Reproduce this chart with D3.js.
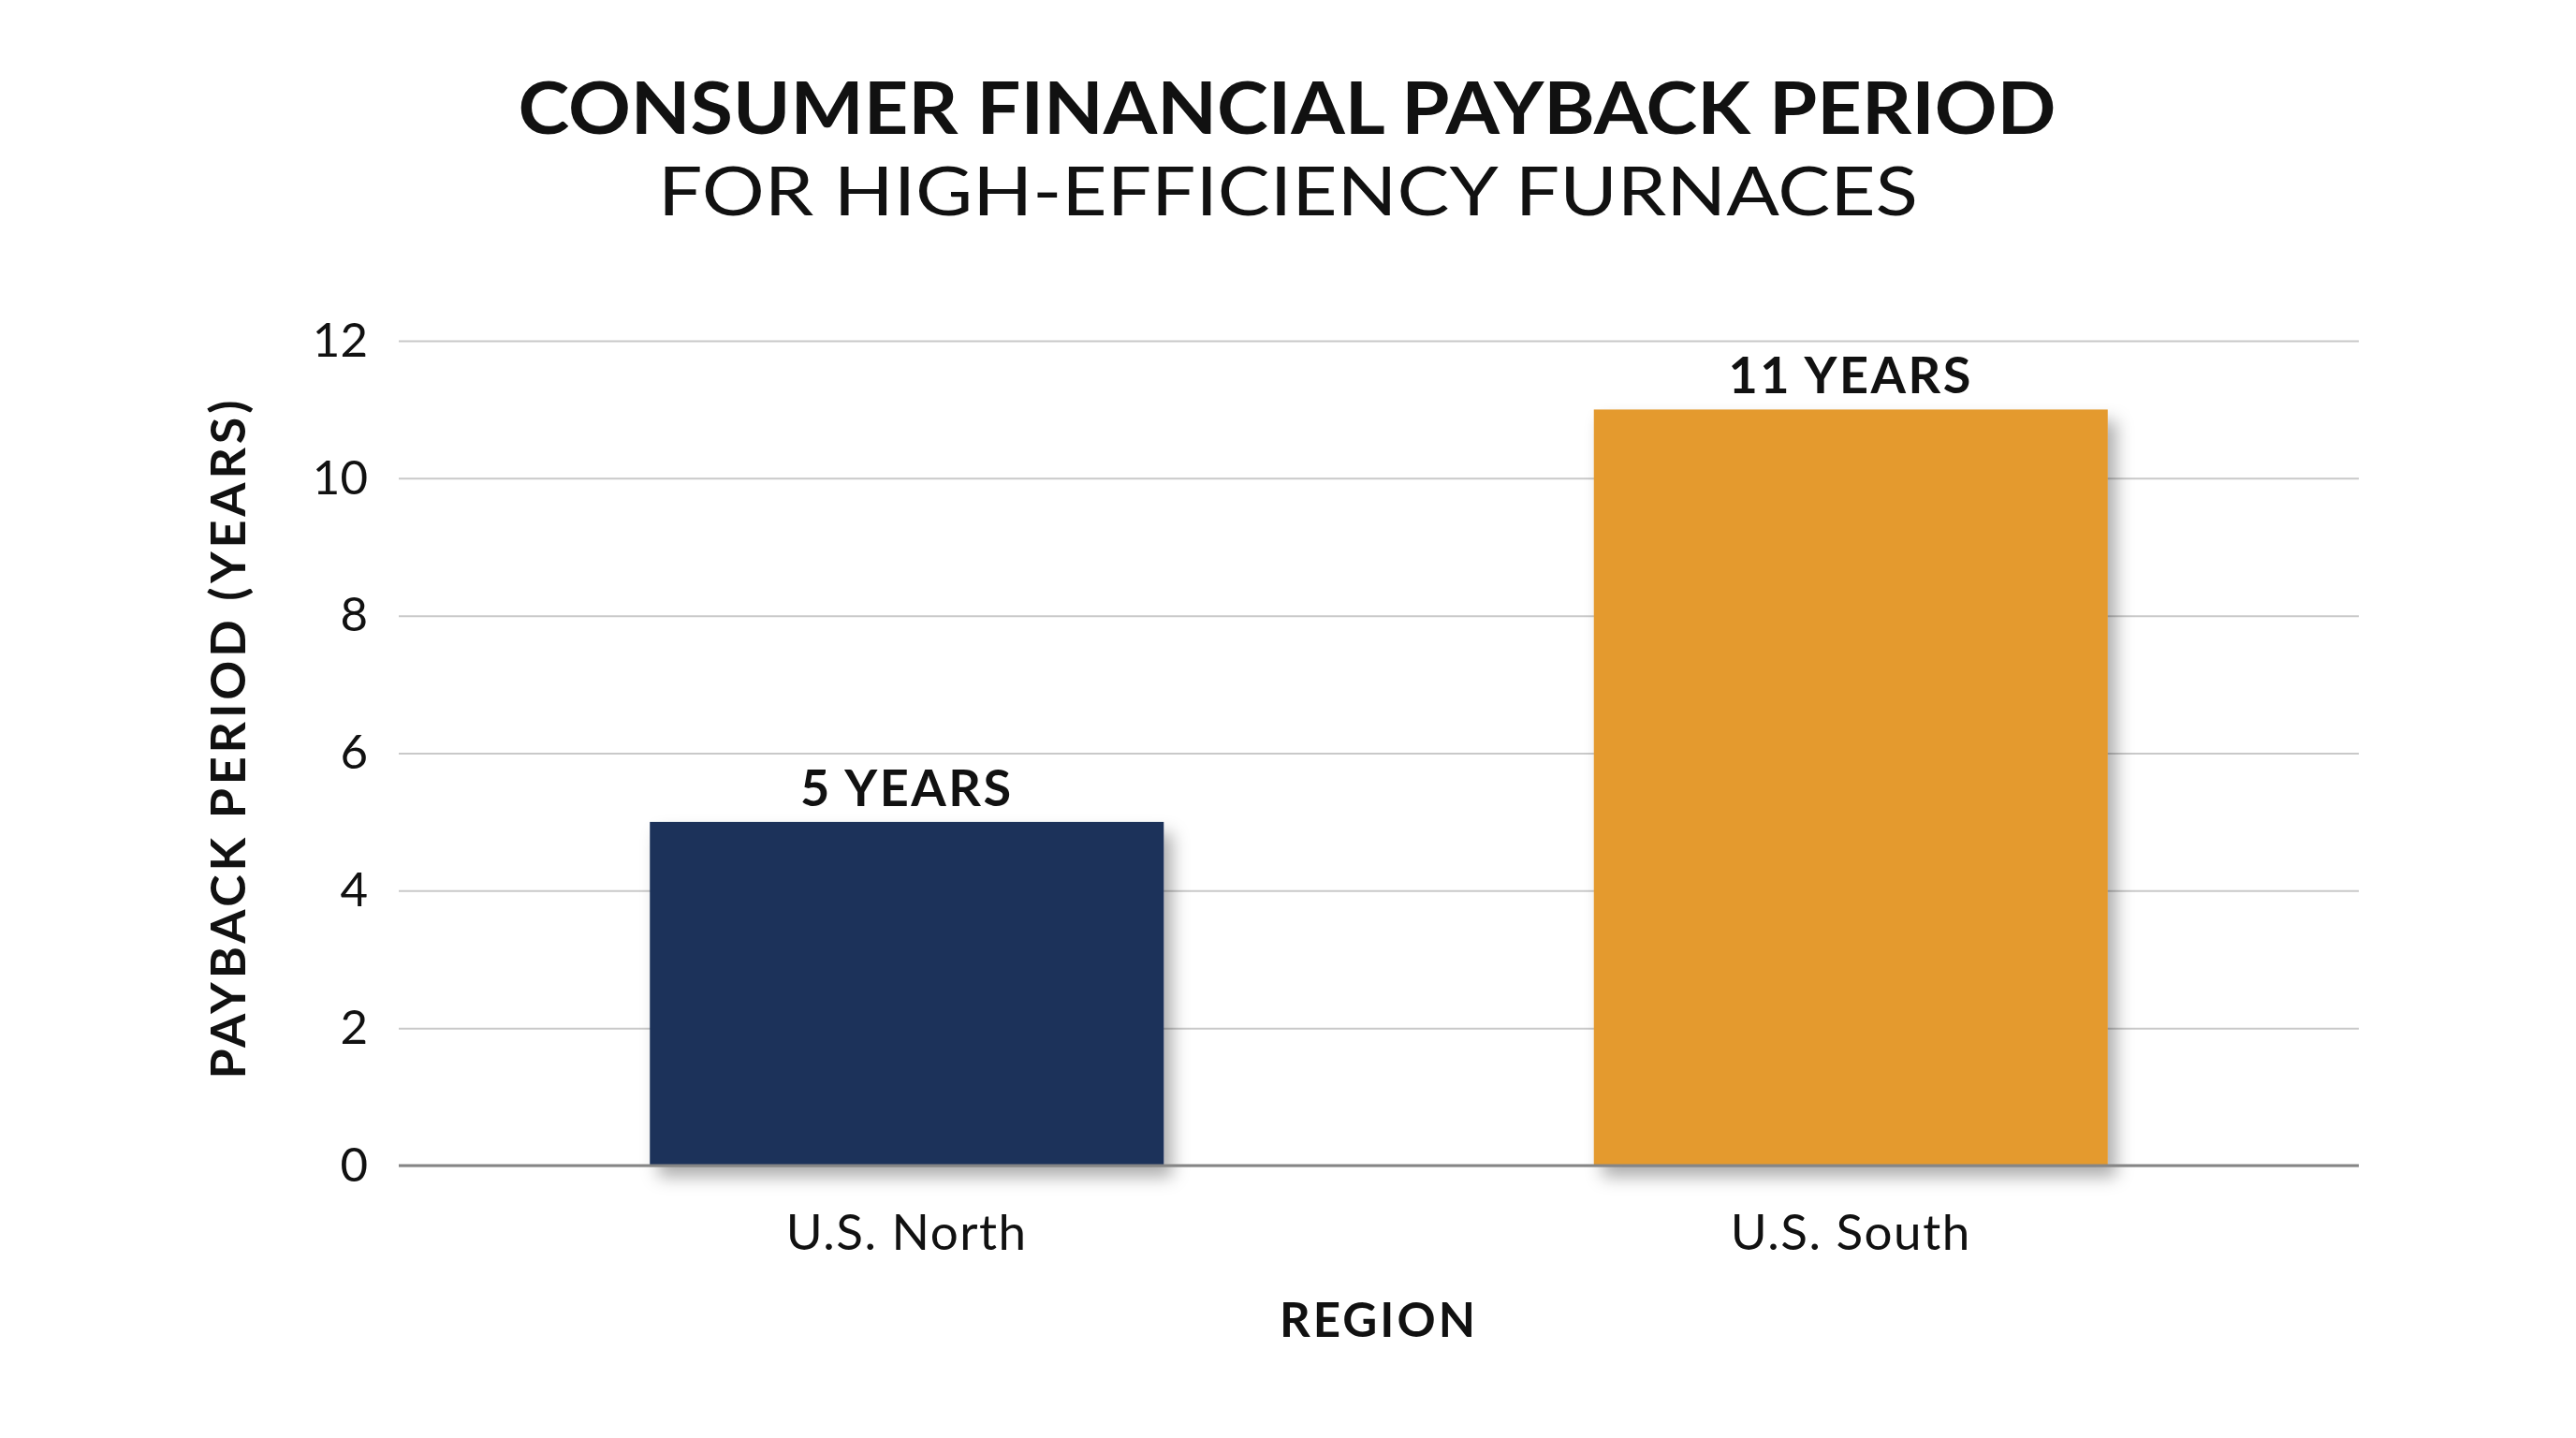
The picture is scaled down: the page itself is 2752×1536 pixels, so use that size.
<!DOCTYPE html>
<html>
<head>
<meta charset="utf-8">
<script src="https://cdn.jsdelivr.net/npm/d3@7"></script>
<style>
  html, body { margin: 0; padding: 0; background: #fff; }
  text { font-family: Lato, "Noto Sans", sans-serif; fill: #111; }
</style>
</head>
<body>
<div id="chart"></div>
<script>
    // chart values
    var regions = ["U.S. North", "U.S. South"];
    var paybackYears = [5, 11];
    var valueLabels = ["5 YEARS", "11 YEARS"];
    var barColors = ["#1d325a", "#e49a2e"];
    var yTicks = [0, 2, 4, 6, 8, 10, 12];
    var titleLines = ["CONSUMER FINANCIAL PAYBACK PERIOD", "FOR HIGH-EFFICIENCY FURNACES"];

    var W = 2752, H = 1536;
    var margin = {top: 364, right: 232, bottom: 291, left: 426},
        width = W - margin.left - margin.right,
        height = H - margin.top - margin.bottom;

    var svg = d3.select("#chart")
        .append("svg")
            .attr("width", W)
            .attr("height", H)
            .style("display", "block");

    svg.append("rect").attr("width", W).attr("height", H).attr("fill", "#fff");

    // soft shadow under the bars
    var defs = svg.append("defs");
    defs.append("filter")
        .attr("id", "barShadow")
        .attr("x", "-10%").attr("y", "-10%")
        .attr("width", "130%").attr("height", "130%")
      .append("feDropShadow")
        .attr("dx", 9)
        .attr("dy", 12)
        .attr("stdDeviation", 9)
        .attr("flood-color", "#000")
        .attr("flood-opacity", 0.32);

    // title (two lines)
    svg.append("text")
        .attr("x", 1375)
        .attr("y", 143)
        .attr("text-anchor", "middle")
        .attr("font-size", 77)
        .attr("font-weight", 700)
        .attr("textLength", 1643)
        .attr("lengthAdjust", "spacingAndGlyphs")
        .text(titleLines[0]);

    svg.append("text")
        .attr("x", 1376)
        .attr("y", 230)
        .attr("text-anchor", "middle")
        .attr("font-size", 72)
        .attr("font-weight", 400)
        .attr("textLength", 1346)
        .attr("lengthAdjust", "spacingAndGlyphs")
        .text(titleLines[1]);

    var g = svg.append("g")
        .attr("transform", "translate(" + margin.left + "," + margin.top + ")");

    var x = d3.scaleBand()
        .domain(regions)
        .range([0, width])
        .paddingInner(0.4556)
        .paddingOuter(0.266);

    var y = d3.scaleLinear()
        .domain([0, 12])
        .range([height, 0]);

    // y axis + gridlines
    var yAxis = g.append("g")
        .attr("class", "y-axis")
        .call(d3.axisLeft(y)
            .tickValues(yTicks)
            .tickSize(-width)
            .tickPadding(33));

    yAxis.select(".domain").remove();
    yAxis.selectAll(".tick line")
        .attr("stroke", "#c9c9c9")
        .attr("stroke-width", 2);
    yAxis.selectAll(".tick text")
        .attr("font-size", 51)
        .attr("font-weight", 400)
        .attr("fill", "#111");

    // bars
    g.selectAll(".bar")
        .data(paybackYears)
        .enter().append("rect")
            .attr("class", "bar")
            .attr("x", function(d, i) { return x(regions[i]); })
            .attr("y", function(d) { return y(d); })
            .attr("width", x.bandwidth())
            .attr("height", function(d) { return height - y(d); })
            .attr("fill", function(d, i) { return barColors[i]; })
            .attr("filter", "url(#barShadow)");

    // value labels
    g.selectAll(".value-label")
        .data(paybackYears)
        .enter().append("text")
            .attr("class", "value-label")
            .attr("x", function(d, i) { return x(regions[i]) + x.bandwidth() / 2; })
            .attr("y", function(d) { return y(d) - 17; })
            .attr("text-anchor", "middle")
            .attr("font-size", 54)
            .attr("font-weight", 700)
            .attr("letter-spacing", 2.5)
            .text(function(d, i) { return valueLabels[i]; });

    // x axis
    var xAxis = g.append("g")
        .attr("class", "x-axis")
        .attr("transform", "translate(0," + height + ")")
        .call(d3.axisBottom(x).tickSize(0).tickPadding(52));

    xAxis.select(".domain").remove();
    xAxis.selectAll(".tick text")
        .attr("font-size", 53)
        .attr("font-weight", 400)
        .attr("letter-spacing", 1.5)
        .attr("fill", "#111");

    // baseline on top of the bars
    g.append("line")
        .attr("x1", 0)
        .attr("x2", width)
        .attr("y1", y(0))
        .attr("y2", y(0))
        .attr("stroke", "#858585")
        .attr("stroke-width", 3);

    // axis titles
    g.append("text")
        .attr("x", width / 2)
        .attr("y", height + 183)
        .attr("text-anchor", "middle")
        .attr("font-size", 51)
        .attr("font-weight", 700)
        .attr("letter-spacing", 3)
        .text("REGION");

    g.append("text")
        .attr("transform", "translate(" + (262 - margin.left) + "," + (790 - margin.top) + ") rotate(-90)")
        .attr("text-anchor", "middle")
        .attr("font-size", 52)
        .attr("font-weight", 700)
        .attr("textLength", 725)
        .attr("lengthAdjust", "spacing")
        .text("PAYBACK PERIOD (YEARS)");
</script>
</body>
</html>
